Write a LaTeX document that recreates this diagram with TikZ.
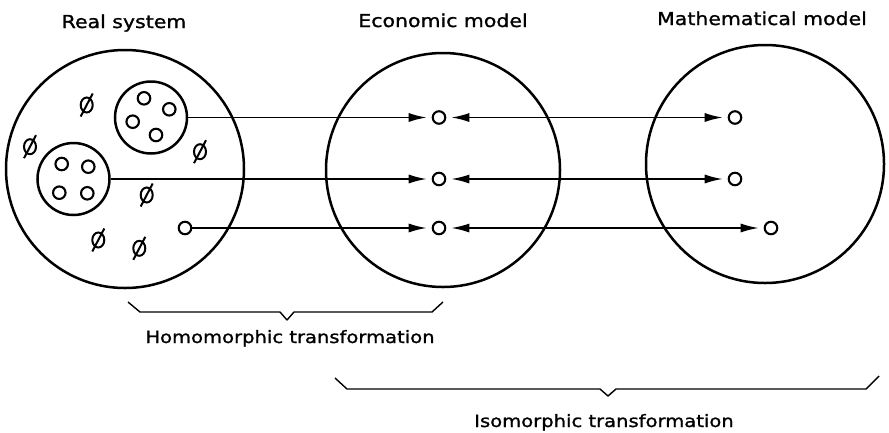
\documentclass[tikz,border=0pt]{standalone}
\usepackage{fontspec}
\newfontfamily\lab[FakeStretch=1.15,FakeBold=1.2]{DejaVu Sans}
\usetikzlibrary{arrows.meta}
\tikzset{
  big/.style={circle, draw, line width=2.5pt, inner sep=0pt},
  group/.style={circle, draw, line width=2.5pt, inner sep=0pt, minimum size=72pt},
  dot/.style={circle, draw, line width=2.1pt, inner sep=0pt, minimum size=12.5pt},
  arr/.style={line width=1.6pt, -{Latex[length=18pt,width=9pt]}, shorten >=5pt},
  darr/.style={line width=1.6pt, {Latex[length=18pt,width=9pt]}-{Latex[length=18pt,width=9pt]}, shorten >=5pt, shorten <=5pt},
  brace/.style={line width=1.4pt, line join=round},
  title/.style={font=\lab\fontsize{17.8pt}{20pt}\selectfont, anchor=base, inner sep=0pt},
  sub/.style={font=\lab\fontsize{17pt}{20pt}\selectfont, anchor=base, inner sep=0pt},
  phisym/.pic={\draw[line width=2pt] (0,0) ellipse [x radius=6pt, y radius=7.5pt];
               \draw[line width=2pt] (-6,11.5) -- (6,-11.5);}
}
\begin{document}
\begin{tikzpicture}[x=1pt,y=-1pt]
\useasboundingbox (0,0) rectangle (889,432);
% big circles
\node[big, minimum size=238pt] (real) at (125,169) {};
\node[big, minimum size=234pt] (econ) at (443,170) {};
\node[big, minimum size=238pt] (math) at (765,164) {};
% titles
\node[title] (t1) at (124,28) {Real system};
\node[title] (t2) at (443,27) {Economic model};
\node[title] (t3) at (762,25) {Mathematical model};
% groups in the real system
\node[group] (ga) at (151,117.5) {};
\node[dot] (a1) at (144,98.3) {};
\node[dot] (a2) at (169.3,109.3) {};
\node[dot] (a3) at (132.7,121.7) {};
\node[dot] (a4) at (156,135) {};
\node[group] (gb) at (73.5,179) {};
\node[dot] (b1) at (61.7,164) {};
\node[dot] (b2) at (88.3,166.7) {};
\node[dot] (b3) at (59.3,192.7) {};
\node[dot] (b4) at (87.3,193.3) {};
\node[dot] (lone) at (185,228) {};
% phi symbols
\pic at (86.7,105) {phisym};
\pic at (30,146.7) {phisym};
\pic at (200,151.7) {phisym};
\pic at (146.7,195) {phisym};
\pic at (98.3,240) {phisym};
\pic at (139.3,248.3) {phisym};
% economic model dots
\node[dot] (m1) at (439,117.5) {};
\node[dot] (m2) at (439,179) {};
\node[dot] (m3) at (439,228) {};
% mathematical model dots
\node[dot] (r1) at (735,117.5) {};
\node[dot] (r2) at (735,179) {};
\node[dot] (r3) at (771,228) {};
% connectors
\draw[arr] (ga.east) -- (m1.west);
\draw[arr] (gb.east) -- (m2.west);
\draw[arr] (lone.east) -- (m3.west);
\draw[darr] (m1.east) -- (r1.west);
\draw[darr] (m2.east) -- (r2.west);
\draw[darr] (m3.east) -- (r3.west);
% braces
\draw[brace] (128,302) -- (140,312) -- (280,312) -- (287,320) -- (294,312) -- (432,312) -- (443,302);
\draw[brace] (335,378) -- (347,389) -- (600,389) -- (608,396) -- (616,389) -- (866,389) -- (879,376);
\node[sub] (h) at (290,343) {Homomorphic transformation};
\node[sub] (i) at (604,427) {Isomorphic transformation};
\end{tikzpicture}
\end{document}
